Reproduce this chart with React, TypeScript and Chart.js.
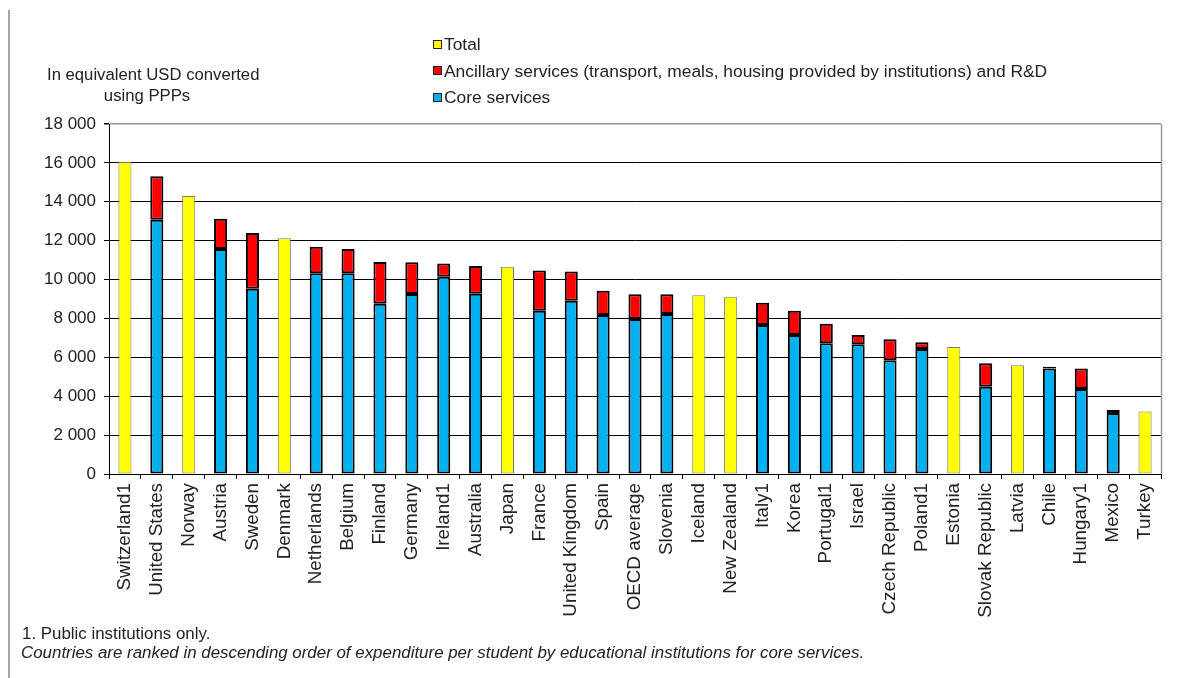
import React, { useEffect, useRef } from "react";
import { Chart, registerables } from "chart.js";

Chart.register(...registerables);

const categories = [
  "Switzerland1", "United States", "Norway", "Austria", "Sweden", "Denmark",
  "Netherlands", "Belgium", "Finland", "Germany", "Ireland1", "Australia",
  "Japan", "France", "United Kingdom", "Spain", "OECD average", "Slovenia",
  "Iceland", "New Zealand", "Italy1", "Korea", "Portugal1", "Israel",
  "Czech Republic", "Poland1", "Estonia", "Slovak Republic", "Latvia", "Chile",
  "Hungary1", "Mexico", "Turkey",
];

const coreServices = [
  null, 13080, null, 11570, 9530, null,
  10320, 10320, 8760, 9260, 10150, 9270,
  null, 8400, 8910, 8180, 7970, 8230,
  null, null, 7660, 7150, 6720, 6670,
  5850, 6430, null, 4490, null, 5420,
  4370, 3140, null,
];

const ancillaryServices = [
  null, 2230, null, 1560, 2860, null,
  1370, 1250, 2140, 1630, 680, 1430,
  null, 2070, 1510, 1250, 1270, 1010,
  null, null, 1150, 1250, 1010, 480,
  1080, 340, null, 1200, null, 100,
  1060, 150, null,
];

const totalOnly = [
  16060, null, 14300, null, null, 12120,
  null, null, null, null, null, null,
  10660, null, null, null, null, null,
  9190, 9120, null, null, null, null,
  null, null, 6530, null, 5590, null,
  null, null, 3210,
];

const yMin = 0;
const yMax = 18000;
const yStep = 2000;

const legendLabels = [
  "Total",
  "Ancillary services (transport, meals, housing provided by institutions) and R&D",
  "Core services",
];
const legendColors = ["#ffff00", "#ff0000", "#00b0f0"];

const yTitleLines = ["In equivalent USD converted", "using PPPs"];
const noteLines = [
  "1. Public institutions only.",
  "Countries are ranked in descending order of expenditure per student by educational institutions for core services.",
];

const FONT = '"Liberation Sans", Arial, sans-serif';
const TEXT = "#222222";

const fmt = (v: number) => String(v).replace(/\B(?=(\d{3})+(?!\d))/g, " ");

const frame = {
  id: "frame",
  afterDatasetsDraw(chart: any) {
    const { ctx, chartArea } = chart;
    const { right, top, bottom } = chartArea;
    ctx.save();
    ctx.strokeStyle = "#9a9a9a";
    ctx.lineWidth = 1.5;
    ctx.beginPath();
    ctx.moveTo(Math.round(right) + 0.5, top);
    ctx.lineTo(Math.round(right) + 0.5, bottom);
    ctx.stroke();
    ctx.restore();
  },
};

export default function App() {
  const ref = useRef<HTMLCanvasElement | null>(null);

  useEffect(() => {
    if (!ref.current) return;
    const chart = new Chart(ref.current, {
      type: "bar",
      data: {
        labels: categories,
        datasets: [
          {
            label: legendLabels[2],
            data: coreServices,
            backgroundColor: legendColors[2],
            borderColor: "#000000",
            borderWidth: 2,
            borderSkipped: false,
            inflateAmount: 0,
            stack: "s",
          },
          {
            label: legendLabels[1],
            data: ancillaryServices,
            backgroundColor: legendColors[1],
            borderColor: "#000000",
            borderWidth: 2,
            borderSkipped: false,
            inflateAmount: 0,
            stack: "s",
          },
          {
            label: legendLabels[0],
            data: totalOnly,
            backgroundColor: legendColors[0],
            borderColor: "#7a7a7a",
            borderWidth: 1,
            borderSkipped: false,
            inflateAmount: 0,
            stack: "s",
          },
        ] as any,
      },
      options: {
        responsive: false,
        animation: false,
        devicePixelRatio: 1,
        layout: { padding: { top: 124, right: 41, left: 0, bottom: 0 } },
        plugins: {
          legend: { display: false },
          tooltip: { enabled: false },
          title: { display: false },
        },
        datasets: {
          bar: { categoryPercentage: 1, barPercentage: 0.41 },
        },
        scales: {
          x: {
            stacked: true,
            offset: true,
            grid: {
              offset: true,
              drawOnChartArea: false,
              drawTicks: true,
              tickLength: 5,
              color: "#000000",
            },
            border: { display: true, color: "#000000", width: 1 },
            ticks: {
              autoSkip: false,
              maxRotation: 90,
              minRotation: 90,
              padding: 4,
              color: TEXT,
              font: { family: FONT, size: 18.8 },
            },
            afterFit(scale: any) {
              scale.height = 204;
            },
          },
          y: {
            stacked: true,
            min: yMin,
            max: yMax,
            ticks: {
              stepSize: yStep,
              padding: 8,
              color: TEXT,
              font: { family: FONT, size: 17 },
              callback: (v: any) => fmt(Number(v)),
            },
            grid: {
              color: (c: any) => (c.tick && c.tick.value === yMax ? "#9a9a9a" : "#000000"),
              lineWidth: (c: any) => (c.tick && c.tick.value === yMax ? 1.5 : 1),
              tickColor: "#000000",
              tickLength: 5,
              drawTicks: true,
            },
            border: { display: true, color: "#000000", width: 1 },
            afterFit(scale: any) {
              scale.width = 109;
            },
          },
        },
      },
      plugins: [frame],
    } as any);
    return () => chart.destroy();
  }, []);

  const textBase: React.CSSProperties = {
    position: "absolute",
    fontFamily: FONT,
    color: TEXT,
    whiteSpace: "nowrap",
    lineHeight: "20px",
    height: 20,
  };

  const legendCenters = [44, 70.7, 97.3];

  return (
    <div style={{ position: "absolute", left: 0, top: 0, width: 1202, height: 678, background: "#ffffff", overflow: "hidden" }}>
      <div style={{ position: "absolute", left: 8, top: 10, width: 2, height: 668, background: "#a6a6a6" }} />
      <canvas ref={ref} width={1202} height={678} style={{ position: "absolute", left: 0, top: 0, width: 1202, height: 678 }} />
      {yTitleLines.map((t, i) => (
        <div key={"yt" + i} style={{ ...textBase, left: 47, width: 200, textAlign: "center", top: (i === 0 ? 75 : 96) - 10, fontSize: 16.7 }}>
          {t}
        </div>
      ))}
      {legendLabels.map((t, i) => (
        <React.Fragment key={"lg" + i}>
          <div
            style={{
              position: "absolute",
              left: 433,
              top: legendCenters[i] - 4.5,
              width: 7,
              height: 7,
              background: legendColors[i],
              border: "1px solid #222",
            }}
          />
          <div style={{ ...textBase, left: 444, top: legendCenters[i] - 10, fontSize: 17.4 }}>{t}</div>
        </React.Fragment>
      ))}
      <div style={{ ...textBase, left: 22, top: 634 - 10, fontSize: 16.9 }}>{noteLines[0]}</div>
      <div style={{ ...textBase, left: 21, top: 653 - 10, fontSize: 16.9, fontStyle: "italic" }}>{noteLines[1]}</div>
    </div>
  );
}
